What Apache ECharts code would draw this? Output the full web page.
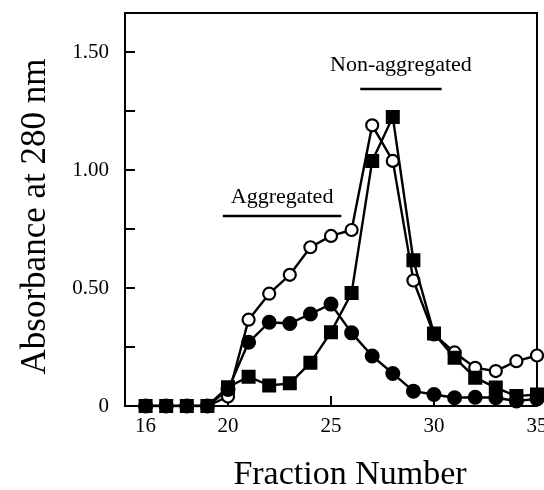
<!DOCTYPE html>
<html>
<head>
<meta charset="utf-8">
<script src="https://cdn.jsdelivr.net/npm/echarts@6/dist/echarts.min.js"></script>
<style>
  html, body { margin: 0; padding: 0; background: #fff; }
  #chart { width: 544px; height: 490px; }
</style>
</head>
<body>
<div id="chart"></div>
<script>
const fractions = [16, 17, 18, 19, 20, 21, 22, 23, 24, 25, 26, 27, 28, 29, 30, 31, 32, 33, 34, 35];

// open circles
const openCircle = [0, 0, 0, 0, 0.04, 0.366, 0.476, 0.556, 0.673, 0.721, 0.746, 1.19, 1.039, 0.532, 0.303, 0.227, 0.162, 0.148, 0.19, 0.214];
// filled circles
const filledCircle = [0, 0, 0, 0, 0.07, 0.27, 0.355, 0.35, 0.39, 0.432, 0.31, 0.212, 0.138, 0.063, 0.049, 0.035, 0.037, 0.035, 0.021, 0.03];
// filled squares
const filledSquare = [0, 0, 0, 0, 0.08, 0.124, 0.087, 0.096, 0.183, 0.313, 0.479, 1.039, 1.225, 0.618, 0.307, 0.205, 0.12, 0.078, 0.042, 0.049];

const xLabels = [16, 20, 25, 30, 35];
const xTicks = [20, 25, 30, 35];
const yLabels = [0, 0.5, 1.0, 1.5];
const yTicks = [0.25, 0.5, 0.75, 1.0, 1.25, 1.5];

// annotation bars: [label, xStart, xEnd, y]
const bands = [
  ['Aggregated', 19.75, 25.5, 0.808],
  ['Non-aggregated', 26.42, 30.37, 1.345],
];

const font = 'Liberation Serif, Times New Roman, serif';

const pairs = (ys) => fractions.map((x, i) => [x, ys[i]]);

const lineBase = {
  type: 'line',
  lineStyle: { color: '#000', width: 2.4 },
  itemStyle: { color: '#000', borderColor: '#000', borderWidth: 2 },
  animation: false,
  silent: true,
};

const chart = echarts.init(document.getElementById('chart'));

chart.setOption({
  backgroundColor: '#fff',
  textStyle: { fontFamily: font, color: '#000' },
  grid: {
    left: 125,
    right: 7,
    top: 13,
    bottom: 84,
    outerBoundsMode: 'none',
    containLabel: false,
    show: true,
    borderColor: '#000',
    borderWidth: 2,
  },
  xAxis: {
    type: 'value',
    min: 15,
    max: 35,
    name: 'Fraction Number',
    nameLocation: 'middle',
    nameGap: 52,
    nameTextStyle: { fontFamily: font, fontSize: 34, color: '#000', padding: [0, 0, 0, 38] },
    axisLine: { lineStyle: { color: '#000', width: 2 } },
    axisTick: { inside: true, length: 10, lineStyle: { color: '#000', width: 2 }, customValues: xTicks },
    axisLabel: { fontFamily: font, fontSize: 21, color: '#000', margin: 10, customValues: xLabels },
    splitLine: { show: false },
  },
  yAxis: {
    type: 'value',
    min: 0,
    max: 1.666,
    name: 'Absorbance at 280 nm',
    nameLocation: 'middle',
    nameGap: 72,
    nameTextStyle: { fontFamily: font, fontSize: 35, color: '#000', padding: [0, 14, 0, 0] },
    axisLine: { show: true, lineStyle: { color: '#000', width: 2 } },
    axisTick: { show: true, inside: true, length: 10, lineStyle: { color: '#000', width: 2 }, customValues: yTicks },
    axisLabel: {
      fontFamily: font,
      fontSize: 21,
      color: '#000',
      margin: 16,
      customValues: yLabels,
      formatter: (v) => (v === 0 ? '0' : v.toFixed(2)),
    },
    splitLine: { show: false },
  },
  series: [
    Object.assign({}, lineBase, {
      name: 'open',
      data: pairs(openCircle),
      symbol: 'circle',
      symbolSize: 12,
      itemStyle: { color: '#fff', borderColor: '#000', borderWidth: 2.2 },
      z: 2,
      markLine: {
        silent: true,
        symbol: 'none',
        animation: false,
        lineStyle: { color: '#000', width: 2.4, type: 'solid' },
        label: {
          show: true,
          position: 'insideMiddleTop',
          fontFamily: font,
          fontSize: 22,
          color: '#000',
          formatter: (p) => p.name,
        },
        data: bands.map((b, i) => [
          { name: b[0], coord: [b[1], b[3]], label: { distance: i === 0 ? 7 : 13 } },
          { coord: [b[2], b[3]] },
        ]),
      },
    }),
    Object.assign({}, lineBase, {
      name: 'filled',
      data: pairs(filledCircle),
      symbol: 'circle',
      symbolSize: 13,
      z: 3,
    }),
    Object.assign({}, lineBase, {
      name: 'square',
      data: pairs(filledSquare),
      symbol: 'rect',
      symbolSize: 12,
      z: 4,
    }),
  ],
});
</script>
</body>
</html>
